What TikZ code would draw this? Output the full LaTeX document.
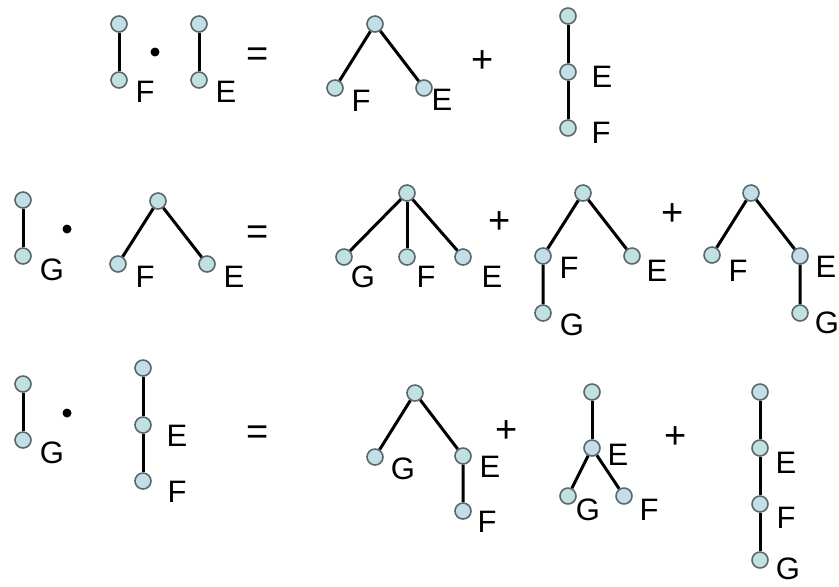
\documentclass[tikz,border=0pt]{standalone}
\usepackage{fontspec}
\setmainfont{Liberation Sans}
\usepackage{xcolor}
\definecolor{leafblue}{RGB}{192,224,228}
\definecolor{leafrim}{RGB}{92,102,104}

\begin{document}
\begin{tikzpicture}[x=0.5pt,y=-0.5pt,
    vert/.style={circle,draw=leafrim,line width=0.8pt,fill=leafblue,minimum size=8pt,inner sep=0pt},
    branch/.style={line width=1.5pt},
    lbl/.style={font=\fontsize{15.5}{18}\selectfont,inner sep=0pt},
    op/.style={font=\fontsize{19}{22}\selectfont,inner sep=0pt},
    prod/.style={circle,fill=black,minimum size=4.5pt,inner sep=0pt}]
    \useasboundingbox (0,0) rectangle (839,586);

    % Row 1: left side
    \node[vert] (aT) at (119,24) {};
    \node[vert] (aB) at (119,80) {};
    \node[lbl] (aF) at (145,92) {F};
    \node[prod] (dotA) at (155,52) {};
    \node[vert] (bT) at (199,24) {};
    \node[vert] (bB) at (199,80) {};
    \node[lbl] (bE) at (226,92) {E};
    \node[op] (eqA) at (258,57) {=};
    \draw[branch] (aT) -- (aB);
    \draw[branch] (bT) -- (bB);

    % Row 1: right side
    \node[vert] (cR) at (375,24) {};
    \node[vert] (cL) at (335,88) {};
    \node[vert] (cE) at (424,88) {};
    \node[lbl] (cFl) at (361,101) {F};
    \node[lbl] (cEl) at (442,100) {E};
    \node[op] (plA) at (483,62) {+};
    \node[vert] (dT) at (568,16) {};
    \node[vert] (dM) at (568,72) {};
    \node[vert] (dB) at (568,128) {};
    \node[lbl] (dEl) at (602,77) {E};
    \node[lbl] (dFl) at (601,133) {F};
    \draw[branch] (cL) -- (cR) -- (cE);
    \draw[branch] (dT) -- (dM) -- (dB);

    % Row 2: left side
    \node[vert] (eT) at (23,200) {};
    \node[vert] (eB) at (23,256) {};
    \node[lbl] (eG) at (52,270) {G};
    \node[prod] (dotB) at (67,229) {};
    \node[vert] (fR) at (158,201) {};
    \node[vert] (fL) at (118,264) {};
    \node[vert] (fE) at (207,264) {};
    \node[lbl] (fFl) at (145,277) {F};
    \node[lbl] (fEl) at (234,277) {E};
    \node[op] (eqB) at (258,235) {=};
    \draw[branch] (eT) -- (eB);
    \draw[branch] (fL) -- (fR) -- (fE);

    % Row 2: right side
    \node[vert] (gR) at (407,193) {};
    \node[vert] (gL) at (344,257) {};
    \node[vert] (gM) at (407,257) {};
    \node[vert] (gE) at (463,257) {};
    \node[lbl] (gGl) at (363,277) {G};
    \node[lbl] (gFl) at (426,277) {F};
    \node[lbl] (gEl) at (492,277) {E};
    \node[op] (plB) at (500,223) {+};
    \draw[branch] (gR) -- (gL);
    \draw[branch] (gR) -- (gM);
    \draw[branch] (gR) -- (gE);

    \node[vert] (hR) at (583,193) {};
    \node[vert] (hF) at (543,256) {};
    \node[vert] (hE) at (632,256) {};
    \node[vert] (hG) at (543,313) {};
    \node[lbl] (hFl) at (569,268) {F};
    \node[lbl] (hEl) at (657,271) {E};
    \node[lbl] (hGl) at (572,325) {G};
    \node[op] (plC) at (673,215) {+};
    \draw[branch] (hG) -- (hF) -- (hR) -- (hE);

    \node[vert] (iR) at (751,193) {};
    \node[vert] (iF) at (712,255) {};
    \node[vert] (iE) at (800,256) {};
    \node[vert] (iG) at (800,313) {};
    \node[lbl] (iFl) at (738,271) {F};
    \node[lbl] (iEl) at (826,267) {E};
    \node[lbl] (iGl) at (827,323) {G};
    \draw[branch] (iF) -- (iR) -- (iE) -- (iG);

    % Row 3: left side
    \node[vert] (jT) at (23,384) {};
    \node[vert] (jB) at (23,440) {};
    \node[lbl] (jG) at (52,453) {G};
    \node[prod] (dotC) at (67,413) {};
    \node[vert] (kT) at (143,368) {};
    \node[vert] (kM) at (143,425) {};
    \node[vert] (kB) at (143,481) {};
    \node[lbl] (kEl) at (177,436) {E};
    \node[lbl] (kFl) at (177,492) {F};
    \node[op] (eqC) at (258,435) {=};
    \draw[branch] (jT) -- (jB);
    \draw[branch] (kT) -- (kM) -- (kB);

    % Row 3: right side
    \node[vert] (lR) at (415,393) {};
    \node[vert] (lG) at (375,457) {};
    \node[vert] (lE) at (463,456) {};
    \node[vert] (lF) at (463,511) {};
    \node[lbl] (lGl) at (403,469) {G};
    \node[lbl] (lEl) at (490,467) {E};
    \node[lbl] (lFl) at (487,522) {F};
    \node[op] (plD) at (507,432) {+};
    \draw[branch] (lG) -- (lR) -- (lE) -- (lF);

    \node[vert] (mR) at (592,392) {};
    \node[vert] (mE) at (592,448) {};
    \node[vert] (mG) at (568,496) {};
    \node[vert] (mF) at (624,496) {};
    \node[lbl] (mEl) at (618,455) {E};
    \node[lbl] (mGl) at (588,510) {G};
    \node[lbl] (mFl) at (649,510) {F};
    \node[op] (plE) at (676,438) {+};
    \draw[branch] (mR) -- (mE);
    \draw[branch] (mG) -- (mE) -- (mF);

    \node[vert] (nT) at (760,392) {};
    \node[vert] (nE) at (760,448) {};
    \node[vert] (nF) at (760,504) {};
    \node[vert] (nG) at (760,560) {};
    \node[lbl] (nEl) at (786,463) {E};
    \node[lbl] (nFl) at (786,518) {F};
    \node[lbl] (nGl) at (788,569) {G};
    \draw[branch] (nT) -- (nE) -- (nF) -- (nG);
\end{tikzpicture}
\end{document}
